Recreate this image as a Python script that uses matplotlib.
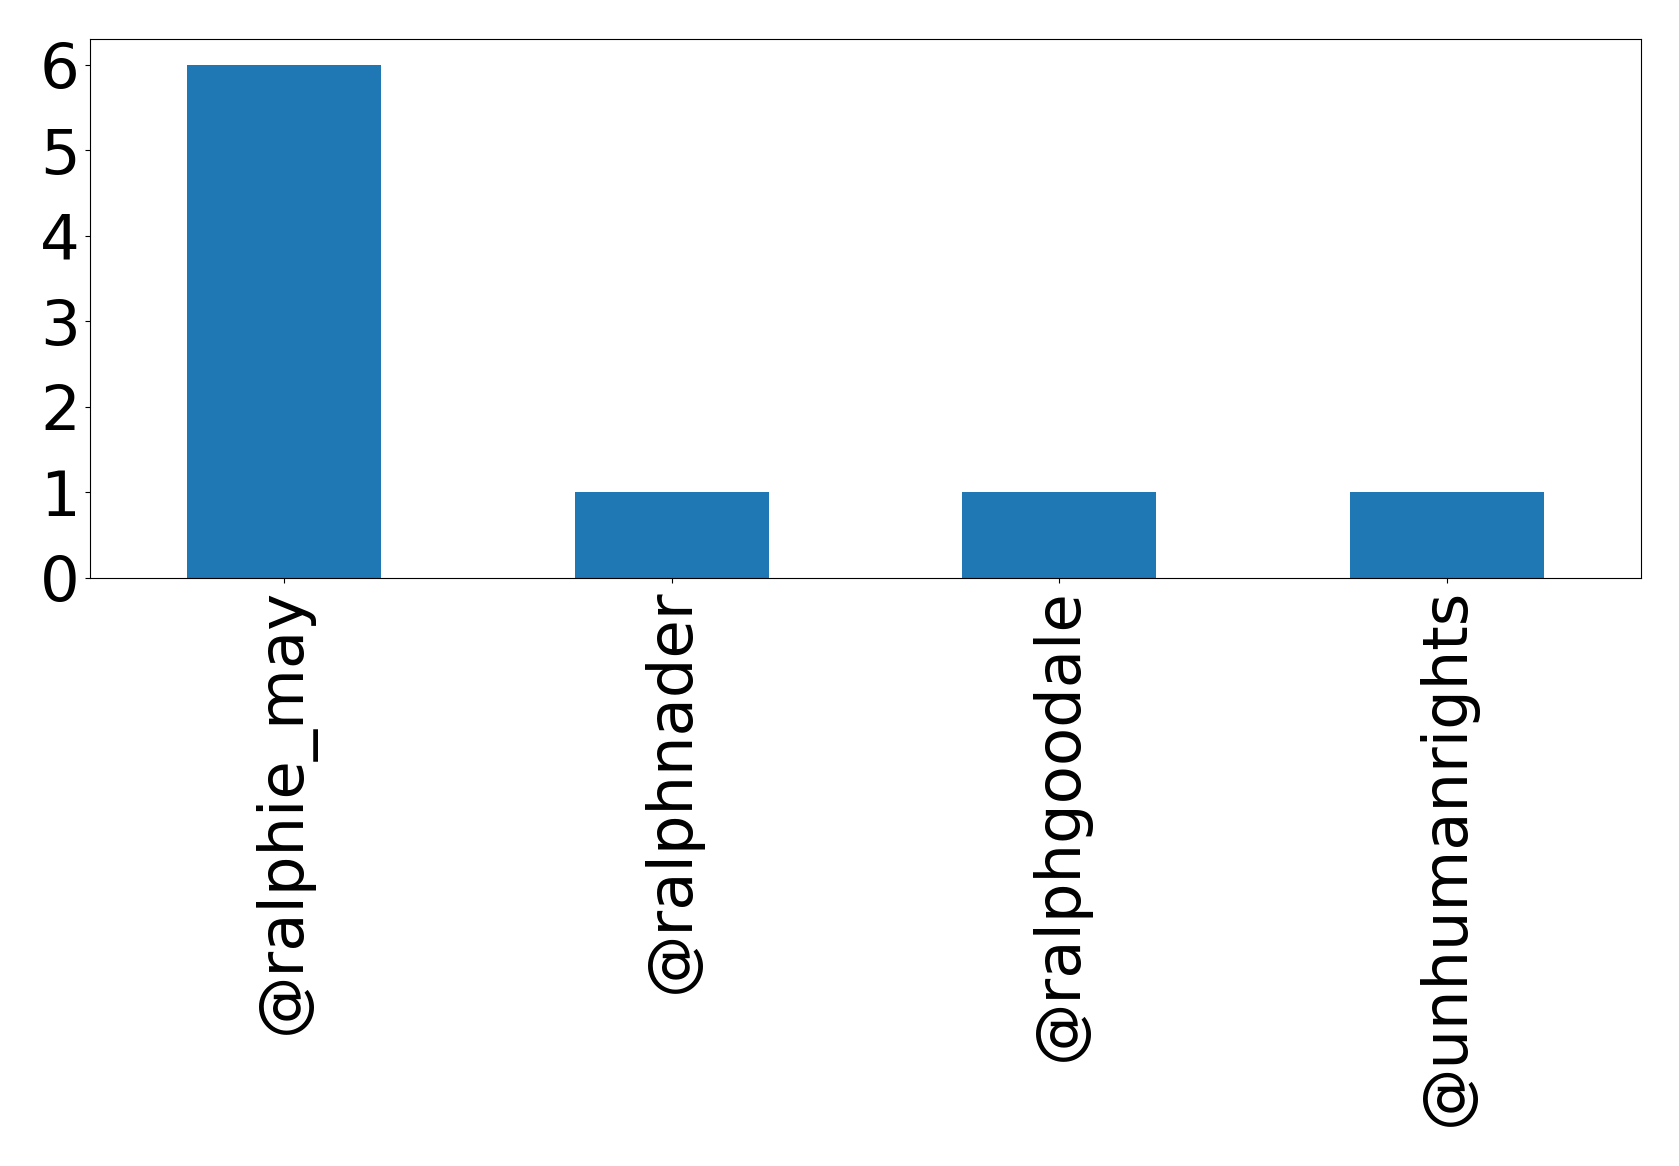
import matplotlib
matplotlib.use('Agg')
import matplotlib.pyplot as plt
import pandas as pd

# mention counts per account
accounts = ['@ralphie_may', '@ralphnader', '@ralphgoodale', '@unhumanrights']
counts = [6, 1, 1, 1]
yticks = [0, 1, 2, 3, 4, 5, 6]

s = pd.Series(counts, index=accounts)

fig = plt.figure(figsize=(16.79, 11.66), dpi=100)
ax = fig.add_axes([0.0536, 0.5043, 0.9238, 0.4623])
s.plot(kind='bar', ax=ax, color='#1f77b4')
ax.set_yticks(yticks)
ax.tick_params(axis='both', labelsize=45, length=3.8)
ax.set_xticklabels(accounts, rotation=90)

fig.savefig('out.png', dpi=100)
